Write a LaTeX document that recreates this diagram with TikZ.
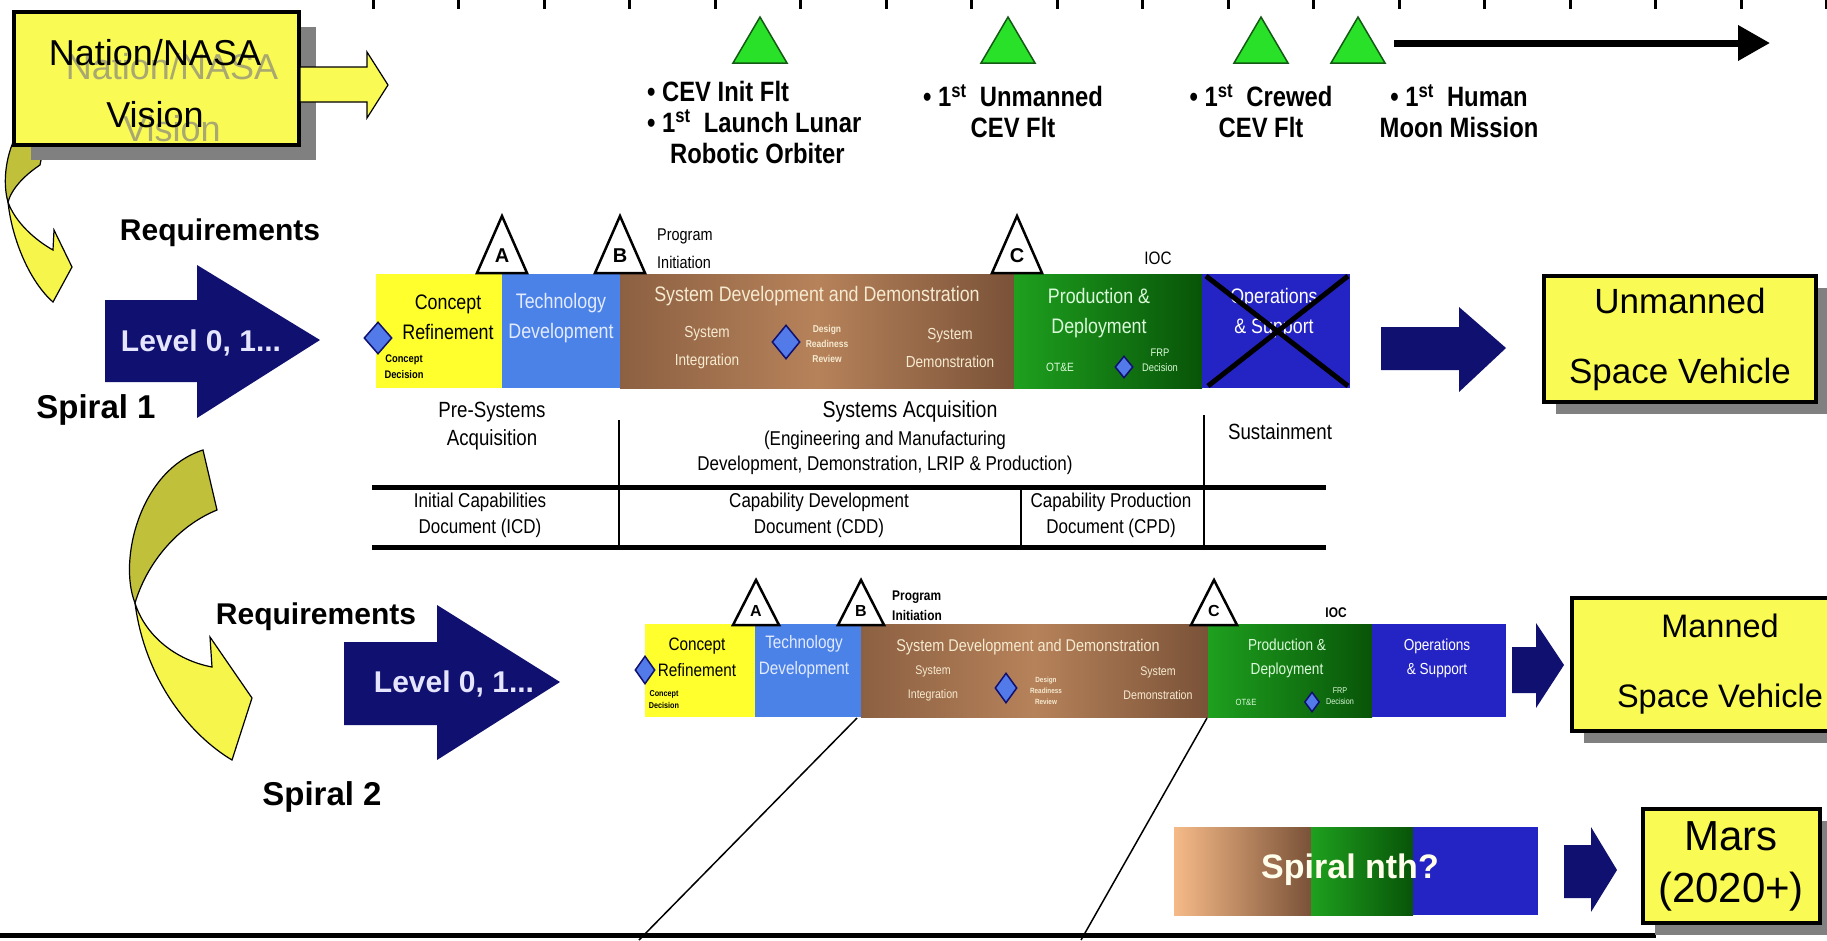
\documentclass[tikz,border=0pt]{standalone}
\usepackage{fontspec}
\setmainfont{Liberation Sans}
\newfontfamily\narrowfont[FakeStretch=0.85]{Liberation Sans}
\usetikzlibrary{arrows.meta, shadows, shapes.geometric, positioning}
\usepackage{xcolor}
\definecolor{visionyellow}{RGB}{250,250,85}
\definecolor{bandyellow}{RGB}{245,245,75}
\definecolor{bandolive}{RGB}{192,192,58}
\definecolor{ghostolive}{RGB}{168,168,112}
\definecolor{shadowgrey}{RGB}{128,128,128}
\definecolor{navyarrow}{RGB}{16,16,112}
\definecolor{milestonegreen}{RGB}{40,225,40}
\definecolor{milestoneedge}{RGB}{20,90,20}
\definecolor{phaseyellow}{RGB}{255,255,45}
\definecolor{phaselightblue}{RGB}{75,130,232}
\definecolor{phasebrownleft}{RGB}{140,96,66}
\definecolor{phasebrownmid}{RGB}{182,130,90}
\definecolor{phasebrownright}{RGB}{122,82,56}
\definecolor{phasegreenleft}{RGB}{30,160,30}
\definecolor{phasegreenright}{RGB}{8,84,8}
\definecolor{phaseblue}{RGB}{36,36,196}
\definecolor{peach}{RGB}{246,186,136}
\definecolor{decisionblue}{RGB}{82,122,232}
\definecolor{techtext}{RGB}{226,234,255}
\definecolor{sddtext}{RGB}{246,234,208}
\definecolor{prodtext}{RGB}{218,250,218}
\tikzset{visionbox/.style={draw=black, line width=4pt, fill=visionyellow, drop shadow={shadow xshift=17pt, shadow yshift=-15pt, fill=shadowgrey, opacity=1}},vehiclebox/.style={draw=black, line width=4pt, fill=visionyellow, align=center, font=\fontsize{35}{70}\selectfont, drop shadow={shadow xshift=12pt, shadow yshift=-12pt, fill=shadowgrey, opacity=1}}}
\tikzset{decision/.style={diamond, fill=decisionblue, draw=navyarrow, line width=1.5pt, inner sep=0pt},gatetri/.style={fill=white, draw=black, line width=2.5pt, line join=miter},bandcurve/.style={draw=black, line width=1.2pt}}

\begin{document}
\begin{tikzpicture}[x=1pt, y=-1pt,
        bigbold/.style={font=\bfseries\fontsize{30}{34}\selectfont, inner sep=0pt},
        spirallabel/.style={font=\bfseries\fontsize{33}{38}\selectfont, inner sep=0pt},
        leveltext/.style={font=\bfseries\fontsize{30}{34}\selectfont, text=white!90!blue, inner sep=0pt},
        milestonetext/.style={font=\narrowfont\bfseries\fontsize{28}{31}\selectfont, inner sep=0pt},
        barlabel/.style={font=\narrowfont\fontsize{21}{30}\selectfont, align=center, inner sep=0pt},
        barsublabel/.style={font=\narrowfont\fontsize{16}{28}\selectfont, align=center, inner sep=0pt},
        bartiny/.style={font=\narrowfont\bfseries\fontsize{11}{16}\selectfont, align=center, inner sep=0pt},
        minibarlabel/.style={font=\narrowfont\fontsize{18}{26}\selectfont, align=center, inner sep=0pt},
        minibarsublabel/.style={font=\narrowfont\fontsize{12.5}{24}\selectfont, align=center, inner sep=0pt},
        minibartiny/.style={font=\narrowfont\bfseries\fontsize{8.5}{12}\selectfont, align=center, inner sep=0pt},
        tablehead/.style={font=\narrowfont\fontsize{22}{28}\selectfont, align=center, inner sep=0pt},
        tabletext/.style={font=\narrowfont\fontsize{20}{26}\selectfont, align=center, inner sep=0pt},
    ]
        \useasboundingbox (0,0) rectangle (1827,940);
        % Timeline
        \foreach \k in {0,...,17} {
            \draw[line width=3pt] (373+85.5*\k, 0) -- ++(0, 9);
        }
        \foreach \mx in {760, 1008, 1261, 1358} {
            \filldraw[fill=milestonegreen, draw=milestoneedge, line width=1.5pt] (\mx-27, 63) -- (\mx, 17) -- (\mx+27, 63) -- cycle;
        }
        \coordinate (timelinestart) at (1394, 43);
        \coordinate (timelineend) at (1770, 43);
        \draw[line width=7pt, -{Triangle[length=32pt, width=34pt]}] (timelinestart) -- (timelineend);
        \node[milestonetext, align=left, anchor=west] (cevinit) at (647, 122) {• CEV Init Flt\\• 1\textsuperscript{st}~ Launch Lunar\\\hspace*{23pt}Robotic Orbiter};
        \node[milestonetext, align=center] (unmannedflt) at (1013, 111) {• 1\textsuperscript{st}~ Unmanned\\CEV Flt};
        \node[milestonetext, align=center] (crewedflt) at (1261, 111) {• 1\textsuperscript{st}~ Crewed\\CEV Flt};
        \node[milestonetext, align=center] (moonmission) at (1459, 111) {• 1\textsuperscript{st}~ Human\\Moon Mission};
        % Vision
        \draw[bandcurve, fill=bandolive] (14,140) -- (45,140) -- (40,165) .. controls (25,175) and (12,188) .. (8,202) .. controls (3,185) and (5,160) .. (14,140) -- cycle;
        \draw[bandcurve, fill=bandyellow] (8,202) .. controls (12,240) and (30,282) .. (53,302) -- (72,267) -- (54,230) -- (53,250) .. controls (35,240) and (15,222) .. (8,202) -- cycle;
        \node[visionbox, minimum width=285pt, minimum height=133pt] (vision) at (156,78) {};
        \node[font=\fontsize{36}{62}\selectfont, text=ghostolive, align=center, inner sep=0pt] (visionshade) at (172,98) {Nation/NASA\\Vision};
        \node[font=\fontsize{36}{62}\selectfont, align=center, inner sep=0pt] (visiontext) at (155,84) {Nation/NASA\\Vision};
        \filldraw[fill=visionyellow, draw=black, line width=1.2pt] (300,67) -- (367,67) -- (367,52) -- (388,85) -- (367,118) -- (367,102) -- (300,102) -- cycle;
        % Spiral 1
        \node[bigbold] (reqone) at (220,233) {Requirements};
        \fill[navyarrow] (105,300) -- (197,300) -- (197,265) -- (320,340) -- (197,418) -- (197,382) -- (105,382) -- cycle;
        \node[leveltext] (levelone) at (201,343) {Level 0, 1...};
        \node[spirallabel] (spiralone) at (96,410) {Spiral 1};
        \fill[phaseyellow] (376,274) rectangle (502,388);
        \fill[phaselightblue] (502,274) rectangle (620,388);
        \shade[left color=phasebrownleft, right color=phasebrownright, middle color=phasebrownmid] (620,274) rectangle (1014,388);
        \shade[left color=phasegreenleft, right color=phasegreenright] (1014,274) rectangle (1202,388);
        \fill[phaseblue] (1202,274) rectangle (1350,388);
        \foreach \gx/\gname in {502/A, 620/B, 1017/C} {
            \filldraw[gatetri] (\gx-25, 273) -- (\gx, 216) -- (\gx+25, 273) -- cycle;
            \node[font=\bfseries\fontsize{20}{20}\selectfont, inner sep=0pt] (gateone\gname) at (\gx, 256) {\gname};
        }
        \node[font=\narrowfont\fontsize{17}{28}\selectfont, align=left, anchor=west, inner sep=0pt] (programone) at (657,249) {Program\\Initiation};
        \node[font=\narrowfont\fontsize{18}{18}\selectfont, inner sep=0pt] (iocone) at (1158,258) {IOC};
        \node[barlabel] (conceptone) at (448,317) {Concept\\Refinement};
        \node[decision, minimum width=28pt, minimum height=32pt] (conceptdecone) at (378,338) {};
        \node[bartiny] (conceptdecisionone) at (404,367) {Concept\\Decision};
        \node[barlabel, text=techtext] (techone) at (561,318) {Technology\\Development};
        \node[barlabel, text=sddtext] (sddone) at (817,296) {System Development and Demonstration};
        \node[barsublabel, text=sddtext] (integone) at (707,348) {System\\Integration};
        \node[decision, minimum width=28pt, minimum height=34pt] (drrone) at (786,342) {};
        \node[font=\narrowfont\bfseries\fontsize{10}{15}\selectfont, align=center, inner sep=0pt, text=sddtext] (drrtextone) at (827,344) {Design\\Readiness\\Review};
        \node[barsublabel, text=sddtext] (demoone) at (950,348) {System\\Demonstration};
        \node[barlabel, text=prodtext] (prodone) at (1099,313) {Production \&\\Deployment};
        \node[bartiny, font=\narrowfont\fontsize{12}{16}\selectfont, text=prodtext] (oteone) at (1060,367) {OT\&E};
        \node[decision, minimum width=18pt, minimum height=22pt] (frpone) at (1124,367) {};
        \node[bartiny, font=\narrowfont\fontsize{11}{15}\selectfont, text=prodtext] (frptextone) at (1160,360) {FRP\\Decision};
        \node[barlabel, text=white] (opsone) at (1274,313) {Operations\\\& Support};
        \draw[line width=5pt] (1206,276) -- (1348,386);
        \draw[line width=5pt] (1348,276) -- (1208,386);
        \fill[navyarrow] (1381,327) -- (1459,327) -- (1459,307) -- (1506,348) -- (1459,392) -- (1459,370) -- (1381,370) -- cycle;
        \node[vehiclebox, minimum width=272pt, minimum height=126pt] (unmanned) at (1680,339) {Unmanned\\Space Vehicle};
        % Acquisition table
        \draw[line width=5pt] (372,487) -- (1326,487);
        \draw[line width=5pt] (372,547) -- (1326,547);
        \draw[line width=2.5pt] (619,420) -- (619,547);
        \draw[line width=2.5pt] (1204,415) -- (1204,547);
        \draw[line width=2.5pt] (1021,487) -- (1021,547);
        \node[tablehead] (presys) at (492,426) {Pre-Systems\\Acquisition};
        \node[tablehead, font=\narrowfont\fontsize{23}{28}\selectfont] (sysacq) at (910,412) {Systems Acquisition};
        \node[tabletext, font=\narrowfont\fontsize{20}{25}\selectfont] (sysacqnote) at (885,453) {(Engineering and Manufacturing\\Development, Demonstration, LRIP \& Production)};
        \node[tablehead] (sustain) at (1280,432) {Sustainment};
        \node[tabletext] (icd) at (480,515) {Initial Capabilities\\Document (ICD)};
        \node[tabletext] (cdd) at (819,515) {Capability Development\\Document (CDD)};
        \node[tabletext] (cpd) at (1111,515) {Capability Production\\Document (CPD)};
        % Spiral 2
        \draw[bandcurve, fill=bandolive] (203,450) -- (217,510) .. controls (180,525) and (148,560) .. (135,603) .. controls (118,560) and (140,470) .. (203,450) -- cycle;
        \draw[bandcurve, fill=bandyellow] (135,603) .. controls (145,680) and (190,735) .. (232,760) -- (252,698) -- (210,637) -- (212,667) .. controls (175,660) and (145,635) .. (135,603) -- cycle;
        \node[bigbold] (reqtwo) at (316,617) {Requirements};
        \fill[navyarrow] (344,642) -- (437,642) -- (437,605) -- (560,682) -- (437,760) -- (437,725) -- (344,725) -- cycle;
        \node[leveltext] (leveltwo) at (454,684) {Level 0, 1...};
        \node[spirallabel] (spiraltwo) at (322,797) {Spiral 2};
        \fill[phaseyellow] (645,624) rectangle (755,717);
        \fill[phaselightblue] (755,624) rectangle (861,717);
        \shade[left color=phasebrownleft, right color=phasebrownright, middle color=phasebrownmid] (861,624) rectangle (1208,717);
        \shade[left color=phasegreenleft, right color=phasegreenright] (1208,624) rectangle (1372,717);
        \fill[phaseblue] (1372,624) rectangle (1506,717);
        \foreach \gx/\gname in {756/A, 861/B, 1214/C} {
            \filldraw[gatetri] (\gx-23, 625) -- (\gx, 580) -- (\gx+23, 625) -- cycle;
            \node[font=\bfseries\fontsize{16}{16}\selectfont, inner sep=0pt] (gatetwo\gname) at (\gx, 611) {\gname};
        }
        \node[font=\narrowfont\bfseries\fontsize{14}{20}\selectfont, align=left, anchor=west, inner sep=0pt] (programtwo) at (892,606) {Program\\Initiation};
        \node[font=\narrowfont\bfseries\fontsize{14}{14}\selectfont, inner sep=0pt] (ioctwo) at (1336,613) {IOC};
        \node[minibarlabel] (concepttwo) at (697,657) {Concept\\Refinement};
        \node[decision, minimum width=20pt, minimum height=28pt] (conceptdectwo) at (645,670) {};
        \node[minibartiny] (conceptdecisiontwo) at (664,700) {Concept\\Decision};
        \node[minibarlabel, text=techtext] (techtwo) at (804,657) {Technology\\Development};
        \node[minibarlabel, font=\narrowfont\fontsize{17}{26}\selectfont, text=sddtext] (sddtwo) at (1028,647) {System Development and Demonstration};
        \node[minibarsublabel, text=sddtext] (integtwo) at (933,683) {System\\Integration};
        \node[decision, minimum width=22pt, minimum height=30pt] (drrtwo) at (1006,688) {};
        \node[font=\narrowfont\bfseries\fontsize{7.5}{11}\selectfont, align=center, inner sep=0pt, text=sddtext] (drrtexttwo) at (1046,691) {Design\\Readiness\\Review};
        \node[minibarsublabel, text=sddtext] (demotwo) at (1158,683) {System\\Demonstration};
        \node[minibarlabel, font=\narrowfont\fontsize{16}{24}\selectfont, text=prodtext] (prodtwo) at (1287,658) {Production \&\\Deployment};
        \node[minibartiny, font=\narrowfont\fontsize{9}{12}\selectfont, text=prodtext] (otetwo) at (1246,702) {OT\&E};
        \node[decision, minimum width=15pt, minimum height=20pt] (frptwo) at (1312,702) {};
        \node[minibartiny, font=\narrowfont\fontsize{8.5}{11}\selectfont, text=prodtext] (frptexttwo) at (1340,696) {FRP\\Decision};
        \node[minibarlabel, font=\narrowfont\fontsize{16}{24}\selectfont, text=white] (opstwo) at (1437,658) {Operations\\\& Support};
        \fill[navyarrow] (1512,647) -- (1536,647) -- (1536,623) -- (1564,665) -- (1536,708) -- (1536,693) -- (1512,693) -- cycle;
        \node[vehiclebox, font=\fontsize{32.5}{70}\selectfont, minimum width=296pt, minimum height=133pt] (manned) at (1720,664) {Manned\\Space Vehicle};
        % Detail lines
        \coordinate (detailleft) at (857,718);
        \coordinate (detailleftfoot) at (639,940);
        \coordinate (detailright) at (1207,718);
        \coordinate (detailrightfoot) at (1081,940);
        \draw[line width=1.5pt] (detailleft) -- (detailleftfoot);
        \draw[line width=1.5pt] (detailright) -- (detailrightfoot);
        % Spiral nth
        \shade[left color=peach, right color=phasebrownright] (1174,827) rectangle (1311,915);
        \shade[left color=phasegreenleft, right color=phasegreenright] (1311,827) rectangle (1413,915);
        \fill[phaseblue] (1413,827) rectangle (1538,915);
        \node[font=\bfseries\fontsize{34}{40}\selectfont, text=white!92!yellow, inner sep=0pt] (spiralnth) at (1350,870) {Spiral nth?};
        \fill[navyarrow] (1564,845) -- (1591,845) -- (1591,827) -- (1617,870) -- (1591,912) -- (1591,898) -- (1564,898) -- cycle;
        \draw[line width=5pt] (0,935) -- (1656,935);
        \node[vehiclebox, font=\fontsize{42}{52}\selectfont, minimum width=177pt, minimum height=114pt] (mars) at (1731,866) {Mars\\(2020+)};
    \end{tikzpicture}
\end{document}
